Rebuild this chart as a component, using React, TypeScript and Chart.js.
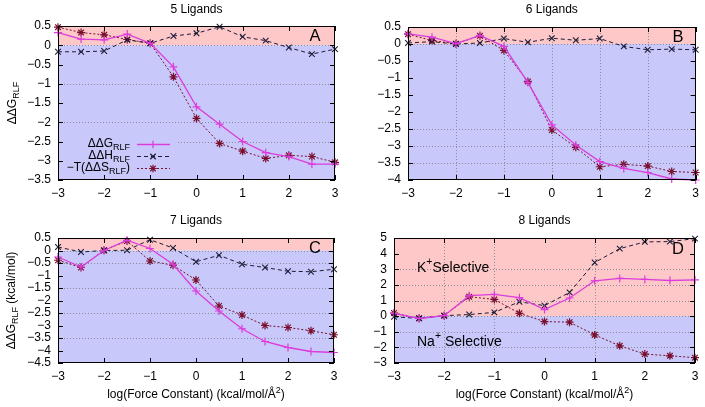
import React, { useEffect, useRef } from 'react';
import { Chart, registerables } from 'chart.js';

Chart.register(...registerables);

const FONT = '"Liberation Sans", Arial, sans-serif';

// Shared x values (log force constant)
const xValues = [-3, -2.5, -2, -1.5, -1, -0.5, 0, 0.5, 1, 1.5, 2, 2.5, 3];
const xTicks = [-3, -2, -1, 0, 1, 2, 3];

// Panel A – 5 ligands
const dG5 = [0.33, 0.16, 0.14, 0.29, 0.05, -0.56, -1.6, -2.05, -2.5, -2.79, -2.89, -3.09, -3.09];
const dH5 = [-0.17, -0.17, -0.15, 0.14, 0.05, 0.24, 0.31, 0.48, 0.22, 0.12, -0.06, -0.23, -0.1];
const TdS5 = [0.47, 0.33, 0.27, 0.15, 0.05, -0.82, -1.9, -2.55, -2.75, -2.94, -2.86, -2.89, -3.04];

// Panel B – 6 ligands
const dG6 = [0.3, 0.2, 0.01, 0.25, -0.07, -1.13, -2.38, -2.97, -3.46, -3.66, -3.78, -3.97, -4.0];
const dH6 = [0.03, 0.07, 0.0, 0.03, 0.16, 0.05, 0.17, 0.11, 0.16, -0.07, -0.17, -0.15, -0.17];
const TdS6 = [0.29, 0.1, 0.01, 0.24, -0.19, -1.1, -2.53, -3.04, -3.61, -3.54, -3.59, -3.75, -3.78];

// Panel C – 7 ligands
const dG7 = [-0.26, -0.66, 0.0, 0.41, 0.08, -0.55, -1.62, -2.42, -3.13, -3.64, -3.88, -4.04, -4.08];
const dH7 = [0.14, -0.06, 0.0, 0.01, 0.43, 0.1, -0.45, -0.19, -0.55, -0.68, -0.83, -0.85, -0.75];
const TdS7 = [-0.39, -0.68, 0.01, 0.38, -0.42, -0.59, -1.18, -2.22, -2.58, -3.0, -3.08, -3.21, -3.37];

// Panel D – 8 ligands
const dG8 = [0.18, -0.15, 0.03, 1.31, 1.39, 1.18, 0.42, 1.16, 2.26, 2.41, 2.35, 2.28, 2.32];
const dH8 = [-0.05, -0.14, 0.03, 0.1, 0.24, 0.92, 0.67, 1.52, 3.43, 4.32, 4.75, 4.77, 4.96];
const TdS8 = [0.2, -0.14, 0.03, 1.24, 1.07, 0.18, -0.35, -0.39, -1.2, -1.9, -2.43, -2.54, -2.66];

const MAG = '#dc3cdc';
const DARK = '#1c1c38';
const RED = '#7a1030';
const PINK = '#ffc8c8';
const BLUE = '#c8c8fa';
const GRID = '#8a8a9c';

type Part = { t: string; sub?: boolean; sup?: boolean };
type Box = { left: number; top: number; width: number; height: number };
type Area = { left: number; right: number; top: number; bottom: number };

type PanelCfg = {
  box: Box;
  area: Area;
  yMin: number;
  yMax: number;
  yStep: number;
  dG: number[];
  dH: number[];
  TdS: number[];
  gridY: number[];
  gridX: number[];
  title: string;
  titleY: number;
  letter: string;
  letterPos: [number, number];
  yTitle?: Part[];
  yTitleX?: number;
  xTitleY?: number;
  legend?: boolean;
  regions?: boolean;
};

function setFont(ctx: CanvasRenderingContext2D, size: number) {
  ctx.font = `${size}px ${FONT}`;
}

function richWidth(ctx: CanvasRenderingContext2D, parts: Part[], size: number) {
  let w = 0;
  for (const p of parts) {
    setFont(ctx, p.sub || p.sup ? size * 0.75 : size);
    w += ctx.measureText(p.t).width;
  }
  return w;
}

function drawRich(
  ctx: CanvasRenderingContext2D,
  parts: Part[],
  x: number,
  y: number,
  size: number,
  align: 'left' | 'center' | 'right',
) {
  const w = richWidth(ctx, parts, size);
  let cx = align === 'left' ? x : align === 'center' ? x - w / 2 : x - w;
  ctx.textBaseline = 'middle';
  ctx.textAlign = 'left';
  ctx.fillStyle = '#000';
  for (const p of parts) {
    const s = p.sub || p.sup ? size * 0.75 : size;
    setFont(ctx, s);
    const dy = p.sub ? size * 0.32 : p.sup ? -size * 0.4 : 0;
    ctx.fillText(p.t, cx, y + dy);
    cx += ctx.measureText(p.t).width;
  }
}

function drawMarker(ctx: CanvasRenderingContext2D, style: string, x: number, y: number, r: number) {
  ctx.beginPath();
  if (style === 'cross' || style === 'star') {
    ctx.moveTo(x - r, y);
    ctx.lineTo(x + r, y);
    ctx.moveTo(x, y - r);
    ctx.lineTo(x, y + r);
  }
  if (style === 'crossRot' || style === 'star') {
    const d = r * 0.72;
    ctx.moveTo(x - d, y - d);
    ctx.lineTo(x + d, y + d);
    ctx.moveTo(x - d, y + d);
    ctx.lineTo(x + d, y - d);
  }
  ctx.stroke();
}

const RLF: Part = { t: 'RLF', sub: true };

const panels: PanelCfg[] = [
  {
    box: { left: 0, top: 0, width: 350, height: 200 },
    area: { left: 58, right: 335, top: 26, bottom: 180 },
    yMin: -3.5, yMax: 0.5, yStep: 0.5,
    dG: dG5, dH: dH5, TdS: TdS5,
    gridY: [0, -1, -2, -2.5], gridX: [],
    title: '5 Ligands', titleY: 10,
    letter: 'A', letterPos: [315, 36],
    yTitle: [{ t: 'ΔΔG' }, RLF], yTitleX: 13,
    legend: true,
  },
  {
    box: { left: 350, top: 0, width: 355, height: 200 },
    area: { left: 408, right: 696, top: 27, bottom: 180 },
    yMin: -4, yMax: 0.5, yStep: 0.5,
    dG: dG6, dH: dH6, TdS: TdS6,
    gridY: [0, -2.5, -3, -3.5], gridX: [-2, -1, 0, 1, 2],
    title: '6 Ligands', titleY: 10,
    letter: 'B', letterPos: [678, 37],
  },
  {
    box: { left: 0, top: 200, width: 350, height: 207 },
    area: { left: 58, right: 334, top: 238, bottom: 363 },
    yMin: -4.5, yMax: 0.5, yStep: 0.5,
    dG: dG7, dH: dH7, TdS: TdS7,
    gridY: [0, -0.5, -1.5, -2.5, -3.5], gridX: [],
    title: '7 Ligands', titleY: 221,
    letter: 'C', letterPos: [315, 248],
    yTitle: [{ t: 'ΔΔG' }, RLF, { t: ' (kcal/mol)' }], yTitleX: 12,
    xTitleY: 395,
  },
  {
    box: { left: 350, top: 200, width: 355, height: 207 },
    area: { left: 394, right: 695, top: 238, bottom: 363 },
    yMin: -3, yMax: 5, yStep: 1,
    dG: dG8, dH: dH8, TdS: TdS8,
    gridY: [0, 1, 2, 3, -1, -2], gridX: [-2, -1, 1],
    title: '8 Ligands', titleY: 221,
    letter: 'D', letterPos: [678, 249],
    xTitleY: 395,
    regions: true,
  },
];

const fmt = (v: number) => String(v).replace('-', '\u2212');

function Panel({ cfg }: { cfg: PanelCfg }) {
  const ref = useRef<HTMLCanvasElement>(null);

  useEffect(() => {
    const c = cfg;
    const ox = c.box.left;
    const oy = c.box.top;
    const padTop = c.area.top - oy;
    const padRight = ox + c.box.width - c.area.right;
    const yWidth = c.area.left - ox;
    const xHeight = oy + c.box.height - c.area.bottom;
    const toPts = (arr: number[]) => xValues.map((x, i) => ({ x, y: arr[i] }));

    const yTickVals: number[] = [];
    for (let v = c.yMin; v <= c.yMax + 1e-9; v += c.yStep) yTickVals.push(Math.round(v * 100) / 100);

    const plugin = {
      id: 'gnuplotStyle',
      beforeDraw(chart: any) {
        const { ctx, chartArea: a } = chart;
        const y0 = chart.scales.y.getPixelForValue(0);
        ctx.save();
        ctx.fillStyle = PINK;
        ctx.fillRect(a.left, a.top, a.right - a.left, y0 - a.top);
        ctx.fillStyle = BLUE;
        ctx.fillRect(a.left, y0, a.right - a.left, a.bottom - y0);
        ctx.restore();
      },
      beforeDatasetsDraw(chart: any) {
        const { ctx, chartArea: a } = chart;
        const sx = chart.scales.x;
        const sy = chart.scales.y;
        ctx.save();
        ctx.strokeStyle = GRID;
        ctx.lineWidth = 1;
        ctx.setLineDash([1, 2]);
        for (const v of c.gridY) {
          const py = Math.round(sy.getPixelForValue(v)) + 0.5;
          ctx.beginPath();
          ctx.moveTo(a.left, py);
          ctx.lineTo(a.right, py);
          ctx.stroke();
        }
        for (const v of c.gridX) {
          const px = Math.round(sx.getPixelForValue(v)) + 0.5;
          ctx.beginPath();
          ctx.moveTo(px, a.top);
          ctx.lineTo(px, a.bottom);
          ctx.stroke();
        }
        ctx.setLineDash([]);
        if (c.legend) {
          ctx.fillStyle = BLUE;
          ctx.fillRect(a.left + 2, 136 - oy, 176 - ox - a.left, 40);
        }
        ctx.restore();
      },
      afterDraw(chart: any) {
        const { ctx, chartArea: a } = chart;
        const sx = chart.scales.x;
        const sy = chart.scales.y;
        ctx.save();
        // border
        ctx.strokeStyle = '#000';
        ctx.lineWidth = 1;
        ctx.setLineDash([]);
        ctx.strokeRect(Math.round(a.left) + 0.5, Math.round(a.top) + 0.5, Math.round(a.right - a.left) - 1, Math.round(a.bottom - a.top) - 1);
        // inward ticks
        const tl = 5;
        ctx.beginPath();
        for (const v of xTicks) {
          const px = Math.round(sx.getPixelForValue(v)) + 0.5;
          ctx.moveTo(px, a.bottom);
          ctx.lineTo(px, a.bottom - tl);
          ctx.moveTo(px, a.top);
          ctx.lineTo(px, a.top + tl);
        }
        for (const v of yTickVals) {
          const py = Math.round(sy.getPixelForValue(v)) + 0.5;
          ctx.moveTo(a.left, py);
          ctx.lineTo(a.left + tl, py);
          ctx.moveTo(a.right, py);
          ctx.lineTo(a.right - tl, py);
        }
        ctx.stroke();

        const midX = (a.left + a.right) / 2;
        const midY = (a.top + a.bottom) / 2;
        // title
        drawRich(ctx, [{ t: c.title }], midX, c.titleY - oy, 12, 'center');
        // letter
        drawRich(ctx, [{ t: c.letter }], c.letterPos[0] - ox, c.letterPos[1] - oy, 16.5, 'center');
        // y title
        if (c.yTitle) {
          ctx.save();
          ctx.translate((c.yTitleX as number) - ox, midY);
          ctx.rotate(-Math.PI / 2);
          drawRich(ctx, c.yTitle, 0, 0, 12, 'center');
          ctx.restore();
        }
        // x title
        if (c.xTitleY) {
          drawRich(
            ctx,
            [{ t: 'log(Force Constant) (kcal/mol/Å' }, { t: '2', sup: true }, { t: ')' }],
            midX,
            c.xTitleY - oy,
            12,
            'center',
          );
        }
        // legend
        if (c.legend) {
          const rows = [
            { parts: [{ t: 'ΔΔG' }, RLF], color: MAG, dash: [] as number[], mk: 'cross', w: 1.3 },
            { parts: [{ t: 'ΔΔH' }, RLF], color: DARK, dash: [4, 3], mk: 'crossRot', w: 1 },
            { parts: [{ t: '\u2212T(ΔΔS' }, RLF, { t: ')' }], color: RED, dash: [2, 2], mk: 'star', w: 1 },
          ];
          const ys = [144, 156, 168];
          rows.forEach((r, i) => {
            const y = ys[i] - oy;
            drawRich(ctx, r.parts, 130 - ox, y, 12, 'right');
            ctx.strokeStyle = r.color;
            ctx.lineWidth = r.w;
            ctx.setLineDash(r.dash);
            ctx.beginPath();
            ctx.moveTo(137 - ox, y + 0.5);
            ctx.lineTo(170 - ox, y + 0.5);
            ctx.stroke();
            ctx.setLineDash([]);
            ctx.lineWidth = 1.2;
            drawMarker(ctx, r.mk, 153 - ox, y + 0.5, 3.8);
          });
        }
        if (c.regions) {
          drawRich(ctx, [{ t: 'K' }, { t: '+', sup: true }, { t: 'Selective' }], 417 - ox, 268 - oy, 14, 'left');
          drawRich(ctx, [{ t: 'Na' }, { t: '+', sup: true }, { t: ' Selective' }], 417 - ox, 342 - oy, 14, 'left');
        }
        ctx.restore();
      },
    };

    const chart = new Chart(ref.current as HTMLCanvasElement, {
      type: 'line',
      data: {
        datasets: [
          {
            label: 'ΔΔG',
            data: toPts(c.dG),
            borderColor: MAG,
            borderWidth: 1.3,
            pointStyle: 'cross',
            pointRadius: 4,
            pointBorderColor: MAG,
            pointBorderWidth: 1.2,
            fill: false,
            tension: 0,
            clip: false,
          } as any,
          {
            label: 'ΔΔH',
            data: toPts(c.dH),
            borderColor: DARK,
            borderWidth: 1,
            borderDash: [4, 3],
            pointStyle: 'crossRot',
            pointRadius: 4,
            pointBorderColor: DARK,
            pointBorderWidth: 1.1,
            fill: false,
            tension: 0,
            clip: false,
          } as any,
          {
            label: '-TΔΔS',
            data: toPts(c.TdS),
            borderColor: RED,
            borderWidth: 1,
            borderDash: [2, 2],
            pointStyle: 'star',
            pointRadius: 4,
            pointBorderColor: RED,
            pointBorderWidth: 1.2,
            fill: false,
            tension: 0,
            clip: false,
          } as any,
        ],
      },
      options: {
        animation: false,
        responsive: false,
        events: [],
        layout: { padding: { top: padTop, right: padRight, left: 0, bottom: 0 } },
        plugins: { legend: { display: false }, tooltip: { enabled: false }, title: { display: false } },
        scales: {
          x: {
            type: 'linear',
            min: -3,
            max: 3,
            grid: { display: false, drawTicks: false },
            border: { display: false },
            ticks: {
              stepSize: 1,
              padding: 6,
              maxRotation: 0,
              autoSkip: false,
              color: '#000',
              font: { family: FONT, size: 12 },
              callback: (v: any) => fmt(Number(v)),
            },
            afterFit: (s: any) => {
              s.height = xHeight;
            },
          },
          y: {
            type: 'linear',
            min: c.yMin,
            max: c.yMax,
            grid: { display: false, drawTicks: false },
            border: { display: false },
            ticks: {
              stepSize: c.yStep,
              padding: 7,
              autoSkip: false,
              color: '#000',
              font: { family: FONT, size: 12 },
              callback: (v: any) => fmt(Math.round(Number(v) * 100) / 100),
            },
            afterFit: (s: any) => {
              s.width = yWidth;
            },
          },
        },
      } as any,
      plugins: [plugin],
    });
    return () => chart.destroy();
  }, [cfg]);

  return (
    <canvas
      ref={ref}
      width={cfg.box.width}
      height={cfg.box.height}
      style={{
        position: 'absolute',
        left: cfg.box.left,
        top: cfg.box.top,
        width: cfg.box.width,
        height: cfg.box.height,
      }}
    />
  );
}

export default function App() {
  return (
    <div style={{ position: 'absolute', left: 0, top: 0, width: 705, height: 407, background: '#fff' }}>
      {panels.map((p, i) => (
        <Panel key={i} cfg={p} />
      ))}
    </div>
  );
}
